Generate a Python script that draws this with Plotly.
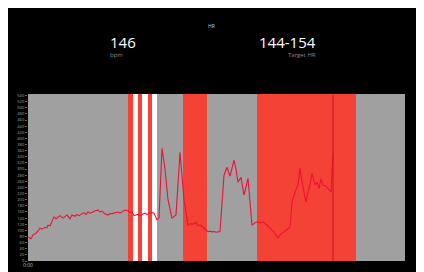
import plotly.graph_objects as go

# ---- data (time in seconds, HR in bpm) ----
t_sec = [0, 30, 50, 80, 100, 120, 140, 170, 190, 200, 220, 240, 260, 280, 300, 320, 350, 370, 390, 420,
         440, 470, 490, 510, 540, 560, 580, 600, 620, 640, 670, 700, 720, 740, 770, 800, 820, 840, 870, 900,
         920, 950, 970, 1000, 1020, 1040, 1060, 1080, 1100, 1110, 1130, 1150, 1170, 1190, 1220, 1240, 1260,
         1290, 1310, 1340, 1370, 1400, 1440, 1480, 1520, 1560, 1600, 1620, 1650, 1680, 1700, 1720, 1750, 1780,
         1790, 1800, 1820, 1840, 1860, 1880, 1920, 1960, 1990, 2020, 2060, 2080, 2100, 2130, 2160, 2200,
         2240, 2270, 2300, 2320, 2350, 2380, 2410, 2440, 2460, 2480, 2500, 2530, 2560, 2580, 2600, 2620,
         2640, 2670, 2700, 2720, 2740, 2760, 2780, 2800, 2820, 2840, 2870, 2890, 2910, 2930, 2950]
hr_bpm = [79, 72, 85, 90, 98, 107, 104, 110, 108, 117, 115, 130, 144, 138, 142, 148, 140, 144, 150, 138,
          150, 146, 152, 148, 155, 158, 152, 160, 156, 158, 164, 166, 160, 163, 153, 150, 155, 154, 158, 160,
          156, 162, 166, 164, 158, 160, 148, 150, 152, 148, 150, 154, 156, 152, 156, 158, 156,
          134, 140, 368, 300, 200, 140, 150, 355, 200, 117, 122, 120, 126, 115, 118, 110, 100,
          98, 96, 97, 95, 96, 94, 96, 280, 306, 277, 329, 300, 257, 273, 215, 270,
          117, 125, 128, 124, 128, 120, 111, 100, 95, 85, 75, 88, 95, 101, 107, 110,
          192, 225, 248, 303, 257, 225, 192, 225, 248, 287, 248, 257, 236, 269, 248]
# the tail of the series (ending at the marker line)
t_tail = [2980, 3000, 3030, 3050]
hr_tail = [245, 236, 225, 352]

# zones: (start s, end s, colour)
zone_start = [1000, 1050, 1100, 1140, 1200, 1240, 1550, 2290]
zone_end = [1050, 1100, 1140, 1200, 1240, 1290, 1790, 3280]
zone_color = ["#f44336", "#ffffff", "#f44336", "#ffffff", "#f44336", "#ffffff", "#f44336", "#f44336"]
marker_t = 3050

y_ticks = list(range(0, 541, 20))
x_range = [0, 3770]
y_range = [0, 545]

t_all = t_sec + t_tail
hr_all = hr_bpm + hr_tail

fig = go.Figure()
fig.add_trace(go.Scatter(x=t_all, y=hr_all, mode="lines",
                         line=dict(color="#ee1133", width=1.1), hoverinfo="skip"))

shapes = []
for s, e, c in zip(zone_start, zone_end, zone_color):
    shapes.append(dict(type="rect", xref="x", yref="paper", x0=s, x1=e, y0=0, y1=1,
                       fillcolor=c, line=dict(width=0), layer="below"))
shapes.append(dict(type="line", xref="x", yref="paper", x0=marker_t, x1=marker_t, y0=0, y1=1,
                   line=dict(color="#c8141e", width=1)))

annotations = [
    dict(text="HR", x=0.488, y=1.405, xref="paper", yref="paper", showarrow=False, yanchor="middle",
         font=dict(size=5, color="#cccccc", family="Open Sans")),
    dict(text="146", x=0.212, y=1.31, xref="paper", yref="paper", showarrow=False, yanchor="middle",
         font=dict(size=15, color="#ffffff", family="Open Sans")),
    dict(text="bpm", x=0.212, y=1.235, xref="paper", yref="paper", showarrow=False, yanchor="middle",
         font=dict(size=6, color="#888888", family="Open Sans")),
    dict(text="144-154", x=0.77, y=1.31, xref="paper", yref="paper", showarrow=False, yanchor="middle",
         font=dict(size=15, color="#ffffff", family="Open Sans")),
    dict(text="Target HR", x=0.77, y=1.235, xref="paper", yref="paper", showarrow=False, yanchor="middle",
         font=dict(size=6, color="#888888", family="Open Sans")),
]

fig.update_layout(
    width=416, height=264,
    margin=dict(l=20, r=19, t=86, b=11, autoexpand=False),
    paper_bgcolor="#000000",
    plot_bgcolor="#a0a0a0",
    showlegend=False,
    shapes=shapes,
    annotations=annotations,
    xaxis=dict(range=x_range, showgrid=False, zeroline=False, tickvals=[0], ticktext=["0:00"],
               tickfont=dict(size=5, color="#bbbbbb"), ticks="", fixedrange=True, automargin=False),
    yaxis=dict(range=y_range, showgrid=False, zeroline=False, tickvals=y_ticks,
               tickfont=dict(size=4, color="#aaaaaa"), ticks="outside", ticklen=2,
               tickcolor="#666666", fixedrange=True, automargin=False),
)

fig.write_html("out.html")
